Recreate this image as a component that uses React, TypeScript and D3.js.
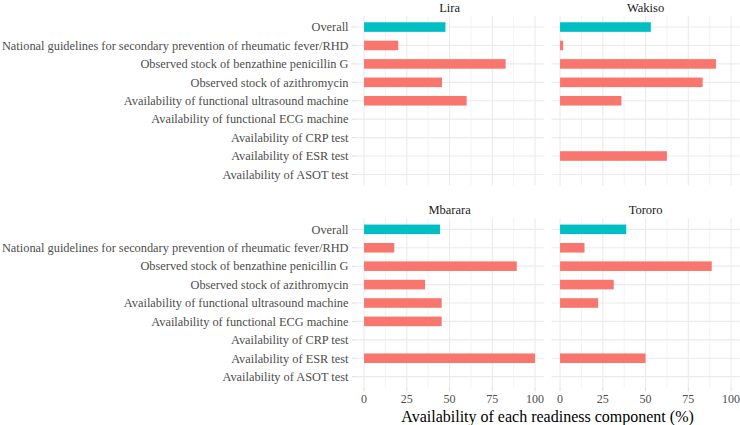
import React, { useEffect, useRef } from 'react';
import * as d3 from 'd3';

// readiness components, top to bottom
const components = [
  'Overall',
  'National guidelines for secondary prevention of rheumatic fever/RHD',
  'Observed stock of benzathine penicillin G',
  'Observed stock of azithromycin',
  'Availability of functional ultrasound machine',
  'Availability of functional ECG machine',
  'Availability of CRP test',
  'Availability of ESR test',
  'Availability of ASOT test',
];

const districts = ['Lira', 'Wakiso', 'Mbarara', 'Tororo'];

// % availability per component (same order as components)
const liraValues = [47.6, 20, 82.8, 45.6, 60, 0, 0, 0, 0];
const wakisoValues = [53.1, 1.8, 91.2, 83.4, 35.9, 0, 0, 62.5, 0];
const mbararaValues = [44.4, 17.7, 89.3, 35.7, 45.4, 45.4, 0, 100, 0];
const tororoValues = [38.7, 14.3, 88.7, 31.4, 22.3, 0, 0, 50, 0];

const xTicks = [0, 25, 50, 75, 100];
const xMinor = [12.5, 37.5, 62.5, 87.5];

const FONT = '"Liberation Serif", "Times New Roman", serif';

function App() {
  const ref = useRef<SVGSVGElement>(null);

  useEffect(() => {
    const svg = d3.select(ref.current);
    svg.selectAll('*').remove();

    const width = 740;
    const height = 425;
    svg.attr('width', width).attr('height', height).style('font-family', FONT);

    const valuesBy: Record<string, number[]> = {
      Lira: liraValues,
      Wakiso: wakisoValues,
      Mbarara: mbararaValues,
      Tororo: tororoValues,
    };

    const cols = [
      [355.5, 543.6],
      [551.5, 739.6],
    ];
    const rows = [
      [16, 185.5],
      [218.3, 387.7],
    ];

    districts.forEach((name, i) => {
      const col = i % 2;
      const row = Math.floor(i / 2);
      const [x0, x1] = cols[col];
      const [y0, y1] = rows[row];

      const x = d3.scaleLinear().domain([-5, 105]).range([x0, x1]);
      const y = d3.scalePoint<string>().domain(components).range([y0, y1]).padding(0.6);
      const barH = y.step() * 0.52;

      const g = svg.append('g');

      // grid
      g.selectAll('line.minor')
        .data(xMinor)
        .join('line')
        .attr('x1', (d) => x(d))
        .attr('x2', (d) => x(d))
        .attr('y1', y0)
        .attr('y2', y1)
        .attr('stroke', '#EBEBEB')
        .attr('stroke-width', 0.6);
      g.selectAll('line.vmajor')
        .data(xTicks)
        .join('line')
        .attr('x1', (d) => x(d))
        .attr('x2', (d) => x(d))
        .attr('y1', y0)
        .attr('y2', y1)
        .attr('stroke', '#EBEBEB')
        .attr('stroke-width', 1.1);
      g.selectAll('line.hmajor')
        .data(components)
        .join('line')
        .attr('x1', x0)
        .attr('x2', x1)
        .attr('y1', (d) => y(d)!)
        .attr('y2', (d) => y(d)!)
        .attr('stroke', '#EBEBEB')
        .attr('stroke-width', 1.1);

      // bars
      const vals = valuesBy[name];
      g.selectAll('rect')
        .data(components.map((c, k) => ({ c, v: vals[k] })).filter((d) => d.v > 0))
        .join('rect')
        .attr('x', x(0))
        .attr('y', (d) => y(d.c)! - barH / 2)
        .attr('width', (d) => x(d.v) - x(0))
        .attr('height', barH)
        .attr('fill', (d) => (d.c === 'Overall' ? '#00BFC4' : '#F8766D'));

      // strip title
      g.append('text')
        .attr('x', (x0 + x1) / 2)
        .attr('y', y0 - 4)
        .attr('text-anchor', 'middle')
        .attr('font-size', 12.5)
        .attr('fill', '#1A1A1A')
        .text(name);

      // y axis on left column
      if (col === 0) {
        const ya = g.append('g');
        ya.selectAll('line')
          .data(components)
          .join('line')
          .attr('x1', x0 - 3.7)
          .attr('x2', x0)
          .attr('y1', (d) => y(d)!)
          .attr('y2', (d) => y(d)!)
          .attr('stroke', '#DCDCDC')
          .attr('stroke-width', 1);
        ya.selectAll('text')
          .data(components)
          .join('text')
          .attr('x', x0 - 7)
          .attr('y', (d) => y(d)!)
          .attr('dy', '0.35em')
          .attr('text-anchor', 'end')
          .attr('font-size', 12.35)
          .attr('fill', '#4D4D4D')
          .text((d) => d);
      }

      // x axis on bottom row
      if (row === 1) {
        const xa = g.append('g');
        xa.selectAll('line')
          .data(xTicks)
          .join('line')
          .attr('x1', (d) => x(d))
          .attr('x2', (d) => x(d))
          .attr('y1', y1)
          .attr('y2', y1 + 3.7)
          .attr('stroke', '#DCDCDC')
          .attr('stroke-width', 1);
        xa.selectAll('text')
          .data(xTicks)
          .join('text')
          .attr('x', (d) => x(d))
          .attr('y', y1 + 15.6)
          .attr('text-anchor', 'middle')
          .attr('font-size', 12)
          .attr('fill', '#4D4D4D')
          .text((d) => d);
      }
    });

    // axis title
    svg
      .append('text')
      .attr('x', (cols[0][0] + cols[1][1]) / 2)
      .attr('y', 421.5)
      .attr('text-anchor', 'middle')
      .attr('font-size', 16)
      .attr('fill', '#000')
      .text('Availability of each readiness component (%)');
  }, []);

  return <svg ref={ref} style={{ position: 'absolute', left: 0, top: 0 }}></svg>;
}

export default App;
